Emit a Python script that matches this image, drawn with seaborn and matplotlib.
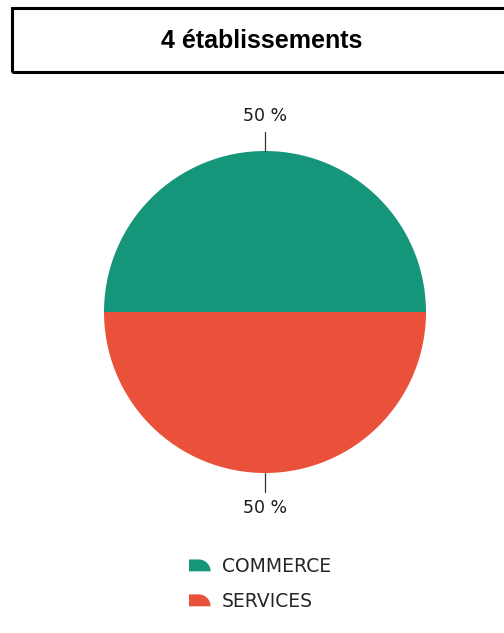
import matplotlib
matplotlib.use("Agg")
import matplotlib.pyplot as plt
import numpy as np
import seaborn as sns
from matplotlib.patches import Rectangle, Wedge, Polygon
from matplotlib.legend_handler import HandlerPatch

# données
categories = ["COMMERCE", "SERVICES"]
parts = [50, 50]
pct_labels = ["50 %", "50 %"]
title = "4 établissements"
colors = ["#15967a", "#e9513a"]

sns.set_theme(style="white")
plt.rcParams["font.family"] = ["DejaVu Sans"]

W, H = 504, 633
fig = plt.figure(figsize=(W / 100, H / 100), dpi=100)
ax = fig.add_axes([0, 0, 1, 1])

# camembert, rayon 1 = 161 px
wedges, _ = ax.pie(parts, colors=colors, startangle=0, counterclock=True,
                   radius=1.0, wedgeprops=dict(linewidth=0))
px = 161.0
cx, cy = 265, 312
ax.set_xlim(-cx / px, (W - cx) / px)
ax.set_ylim(-(H - cy) / px, cy / px)
ax.set_aspect("auto")
ax.axis("off")

# étiquettes avec traits de rappel
for w, lab in zip(wedges, pct_labels):
    sign = 1 if (w.theta1 + w.theta2) / 2 < 180 else -1
    ax.plot([0, 0], [sign * 1.0, sign * 1.12], color="#333333", lw=0.9)
    ax.text(0, sign * 1.22, lab, ha="center", va="center", fontsize=12.5,
            color="#1a1a1a")

# cadre du titre
fig.patches.append(Rectangle((12 / W, 1 - 72 / H), 520 / W, 64 / H,
                             transform=fig.transFigure, fill=False,
                             edgecolor="black", linewidth=2.2))
fig.text(262 / W, 1 - 41 / H, title, ha="center", va="center",
         fontsize=18, fontweight="bold", family="Liberation Sans",
         color="black")


class HandlerWedge(HandlerPatch):
    # petite icône en forme de part de camembert
    def create_artists(self, legend, orig_handle, xdescent, ydescent,
                       width, height, fontsize, trans):
        t = np.linspace(0, np.pi / 2, 20)
        x0, y0 = -xdescent, -ydescent
        xs = x0 + 0.45 * width + 0.55 * width * np.cos(t)
        ys = y0 + height * np.sin(t)
        pts = [(x0, y0)] + list(zip(xs, ys)) + [(x0, y0 + height)]
        p = Polygon(pts, closed=True, facecolor=orig_handle.get_facecolor(),
                    edgecolor="none", transform=trans)
        return [p]


ax.legend(wedges, categories, loc="upper left",
          bbox_to_anchor=(189 / W, 1 - 557 / H), bbox_transform=fig.transFigure,
          frameon=False, fontsize=13.5, handlelength=1.15, handleheight=0.6,
          labelspacing=0.85, handletextpad=0.6, borderpad=0, borderaxespad=0,
          handler_map={Wedge: HandlerWedge()})

fig.savefig("out.png", dpi=100)
